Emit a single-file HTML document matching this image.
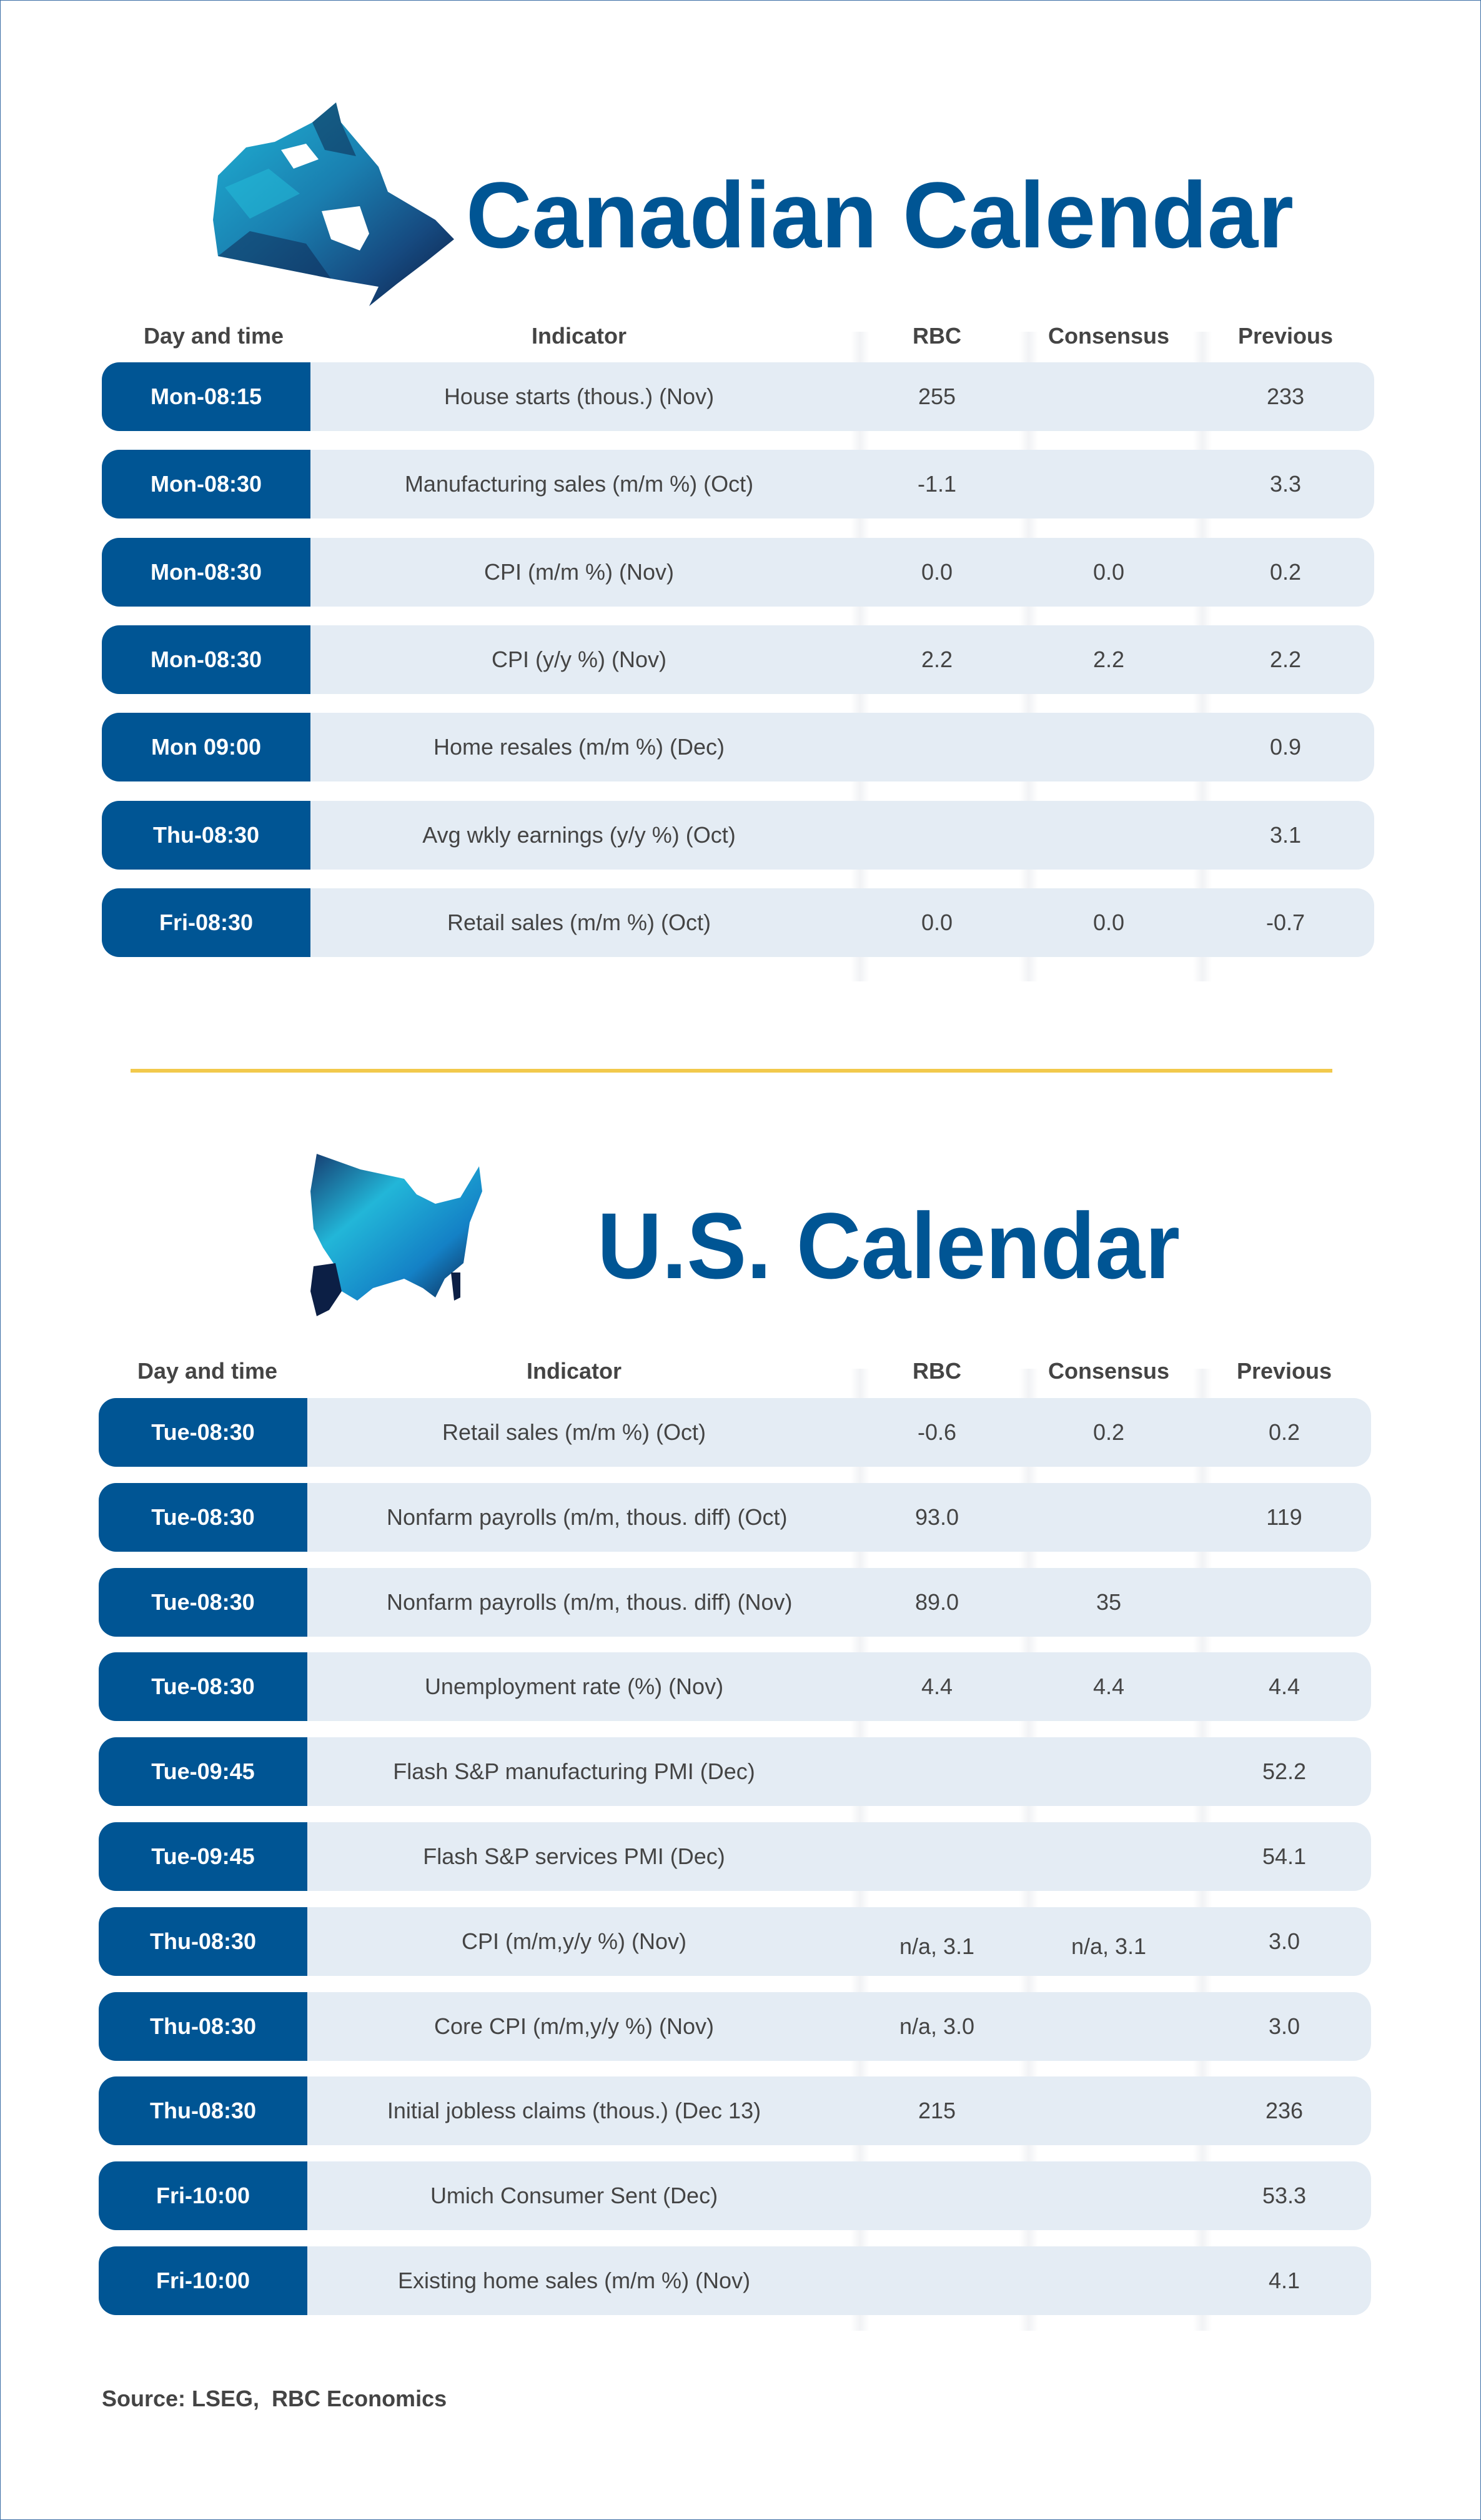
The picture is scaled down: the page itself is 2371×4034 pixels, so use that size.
<!DOCTYPE html>
<html><head><meta charset="utf-8"><style>
body{margin:0;background:#fff}
#p{position:relative;width:2369px;height:4032px;border:1px solid #3b6ea5;overflow:hidden;font-family:"Liberation Sans",sans-serif;background:#fff}
.r{position:absolute;height:110px;background:#e4ecf4;border-radius:28px;overflow:hidden}
.d{position:absolute;left:0;top:0;width:334px;height:110px;background:#005594;color:#fff;font-weight:bold;font-size:36px;line-height:110px;text-align:center}
.t{position:absolute;top:0;line-height:110px;font-size:36px;color:#444;text-align:center;white-space:nowrap}
.h{position:absolute;font-size:36px;font-weight:bold;color:#444;text-align:center;white-space:nowrap}
.sep{position:absolute;width:30px;background:linear-gradient(90deg,rgba(200,205,215,0),rgba(200,205,215,.25),rgba(200,205,215,0))}
</style></head><body><div id="p">

<!-- Canada map -->
<svg style="position:absolute;left:339px;top:159px" width="390" height="335" viewBox="0 0 390 335">
<defs><linearGradient id="g1" x1="0" y1="0" x2="1" y2="1"><stop offset="0" stop-color="#1fb4d6"/><stop offset=".45" stop-color="#1a7fb0"/><stop offset=".75" stop-color="#164a80"/><stop offset="1" stop-color="#0c1f45"/></linearGradient></defs>
<polygon fill="url(#g1)" points="9,121 54,76 100,67 160,36 198,4 206,36 266,107 281,147 357,192 387,223 342,259 296,294 251,330 266,299 190,286 100,268 9,250 1,192"/>
<polygon fill="#23c0dc" opacity=".5" points="20,140 90,110 140,150 60,190"/>
<polygon fill="#0e2a55" opacity=".55" points="9,250 100,268 190,286 150,230 60,210"/>
<polygon fill="#0c1f45" opacity=".5" points="160,36 198,4 206,36 230,90 180,80"/>
<polygon fill="#fff" points="175,178 236,170 251,214 236,241 190,223"/>
<polygon fill="#fff" points="110,80 150,70 170,95 130,110"/>
</svg>
<svg style="position:absolute;left:745px;top:230px" width="1340" height="200">
<text x="0" y="165" font-family="Liberation Sans,sans-serif" font-weight="bold" font-size="150" fill="#005594" textLength="1325" lengthAdjust="spacingAndGlyphs">Canadian Calendar</text></svg>

<div class="sep" style="left:1361px;top:530px;height:1040px"></div>
<div class="sep" style="left:1631px;top:530px;height:1040px"></div>
<div class="sep" style="left:1909px;top:530px;height:1040px"></div>

<div class="h" style="left:229px;width:200px;top:516px">Day and time</div>
<div class="h" style="left:776px;width:300px;top:516px">Indicator</div>
<div class="h" style="left:1399px;width:200px;top:516px">RBC</div>
<div class="h" style="left:1674px;width:200px;top:516px">Consensus</div>
<div class="h" style="left:1957px;width:200px;top:516px">Previous</div>

<div class="r" style="left:162px;width:2037px;top:579px"><div class="d">Mon-08:15</div><div class="t" style="left:464px;width:600px">House starts (thous.) (Nov)</div><div class="t" style="left:1237px;width:200px">255</div><div class="t" style="left:1795px;width:200px">233</div></div>
<div class="r" style="left:162px;width:2037px;top:719px"><div class="d">Mon-08:30</div><div class="t" style="left:464px;width:600px">Manufacturing sales (m/m %) (Oct)</div><div class="t" style="left:1237px;width:200px">-1.1</div><div class="t" style="left:1795px;width:200px">3.3</div></div>
<div class="r" style="left:162px;width:2037px;top:860px"><div class="d">Mon-08:30</div><div class="t" style="left:464px;width:600px">CPI (m/m %) (Nov)</div><div class="t" style="left:1237px;width:200px">0.0</div><div class="t" style="left:1512px;width:200px">0.0</div><div class="t" style="left:1795px;width:200px">0.2</div></div>
<div class="r" style="left:162px;width:2037px;top:1000px"><div class="d">Mon-08:30</div><div class="t" style="left:464px;width:600px">CPI (y/y %) (Nov)</div><div class="t" style="left:1237px;width:200px">2.2</div><div class="t" style="left:1512px;width:200px">2.2</div><div class="t" style="left:1795px;width:200px">2.2</div></div>
<div class="r" style="left:162px;width:2037px;top:1140px"><div class="d">Mon 09:00</div><div class="t" style="left:464px;width:600px">Home resales (m/m %) (Dec)</div><div class="t" style="left:1795px;width:200px">0.9</div></div>
<div class="r" style="left:162px;width:2037px;top:1281px"><div class="d">Thu-08:30</div><div class="t" style="left:464px;width:600px">Avg wkly earnings (y/y %) (Oct)</div><div class="t" style="left:1795px;width:200px">3.1</div></div>
<div class="r" style="left:162px;width:2037px;top:1421px"><div class="d">Fri-08:30</div><div class="t" style="left:464px;width:600px">Retail sales (m/m %) (Oct)</div><div class="t" style="left:1237px;width:200px">0.0</div><div class="t" style="left:1512px;width:200px">0.0</div><div class="t" style="left:1795px;width:200px">-0.7</div></div>

<div style="position:absolute;left:208px;top:1710px;width:1924px;height:6px;background:#f2c94c"></div>

<!-- US map -->
<svg style="position:absolute;left:496px;top:1846px" width="430" height="285" viewBox="0 0 430 285">
<defs><linearGradient id="g2" x1="0" y1="0" x2="1" y2="1"><stop offset="0" stop-color="#163c70"/><stop offset=".35" stop-color="#22b6d8"/><stop offset=".7" stop-color="#1481c6"/><stop offset="1" stop-color="#0c1f45"/></linearGradient></defs>
<polygon fill="url(#g2)" points="10,0 80,25 150,40 170,65 200,80 240,70 270,20 275,60 255,110 245,175 215,200 200,230 180,215 150,200 100,215 75,235 50,220 40,180 20,150 5,120 0,60"/>
<polygon fill="#0c1f45" points="5,180 40,175 50,220 30,250 10,260 0,220"/>
<polygon fill="#0c1f45" points="225,190 240,190 240,230 230,235"/>
</svg>
<svg style="position:absolute;left:955px;top:1890px" width="950" height="200">
<text x="0" y="155" font-family="Liberation Sans,sans-serif" font-weight="bold" font-size="150" fill="#005594" textLength="933" lengthAdjust="spacingAndGlyphs">U.S. Calendar</text></svg>

<div class="sep" style="left:1361px;top:2190px;height:1540px"></div>
<div class="sep" style="left:1631px;top:2190px;height:1540px"></div>
<div class="sep" style="left:1909px;top:2190px;height:1540px"></div>

<div class="h" style="left:219px;width:200px;top:2173px">Day and time</div>
<div class="h" style="left:768px;width:300px;top:2173px">Indicator</div>
<div class="h" style="left:1399px;width:200px;top:2173px">RBC</div>
<div class="h" style="left:1674px;width:200px;top:2173px">Consensus</div>
<div class="h" style="left:1955px;width:200px;top:2173px">Previous</div>

<div class="r" style="left:157px;width:2037px;top:2237px"><div class="d">Tue-08:30</div><div class="t" style="left:461px;width:600px">Retail sales (m/m %) (Oct)</div><div class="t" style="left:1242px;width:200px">-0.6</div><div class="t" style="left:1517px;width:200px">0.2</div><div class="t" style="left:1798px;width:200px">0.2</div></div>
<div class="r" style="left:157px;width:2037px;top:2373px"><div class="d">Tue-08:30</div><div class="t" style="left:461px;width:600px">Nonfarm payrolls (m/m, thous. diff) (Oct)</div><div class="t" style="left:1242px;width:200px">93.0</div><div class="t" style="left:1798px;width:200px">119</div></div>
<div class="r" style="left:157px;width:2037px;top:2509px"><div class="d">Tue-08:30</div><div class="t" style="left:461px;width:600px">Nonfarm payrolls (m/m, thous. diff) (Nov)</div><div class="t" style="left:1242px;width:200px">89.0</div><div class="t" style="left:1517px;width:200px">35</div></div>
<div class="r" style="left:157px;width:2037px;top:2644px"><div class="d">Tue-08:30</div><div class="t" style="left:461px;width:600px">Unemployment rate (%) (Nov)</div><div class="t" style="left:1242px;width:200px">4.4</div><div class="t" style="left:1517px;width:200px">4.4</div><div class="t" style="left:1798px;width:200px">4.4</div></div>
<div class="r" style="left:157px;width:2037px;top:2780px"><div class="d">Tue-09:45</div><div class="t" style="left:461px;width:600px">Flash S&amp;P manufacturing PMI (Dec)</div><div class="t" style="left:1798px;width:200px">52.2</div></div>
<div class="r" style="left:157px;width:2037px;top:2916px"><div class="d">Tue-09:45</div><div class="t" style="left:461px;width:600px">Flash S&amp;P services PMI (Dec)</div><div class="t" style="left:1798px;width:200px">54.1</div></div>
<div class="r" style="left:157px;width:2037px;top:3052px"><div class="d">Thu-08:30</div><div class="t" style="left:461px;width:600px">CPI (m/m,y/y %) (Nov)</div><div class="t" style="left:1242px;width:200px;top:8px">n/a, 3.1</div><div class="t" style="left:1517px;width:200px;top:8px">n/a, 3.1</div><div class="t" style="left:1798px;width:200px">3.0</div></div>
<div class="r" style="left:157px;width:2037px;top:3188px"><div class="d">Thu-08:30</div><div class="t" style="left:461px;width:600px">Core CPI (m/m,y/y %) (Nov)</div><div class="t" style="left:1242px;width:200px">n/a, 3.0</div><div class="t" style="left:1798px;width:200px">3.0</div></div>
<div class="r" style="left:157px;width:2037px;top:3323px"><div class="d">Thu-08:30</div><div class="t" style="left:461px;width:600px">Initial jobless claims (thous.) (Dec 13)</div><div class="t" style="left:1242px;width:200px">215</div><div class="t" style="left:1798px;width:200px">236</div></div>
<div class="r" style="left:157px;width:2037px;top:3459px"><div class="d">Fri-10:00</div><div class="t" style="left:461px;width:600px">Umich Consumer Sent (Dec)</div><div class="t" style="left:1798px;width:200px">53.3</div></div>
<div class="r" style="left:157px;width:2037px;top:3595px"><div class="d">Fri-10:00</div><div class="t" style="left:461px;width:600px">Existing home sales (m/m %) (Nov)</div><div class="t" style="left:1798px;width:200px">4.1</div></div>

<div style="position:absolute;left:162px;top:3818px;font-size:36px;font-weight:bold;color:#444">Source: LSEG,&nbsp; RBC Economics</div>
</div></body></html>
